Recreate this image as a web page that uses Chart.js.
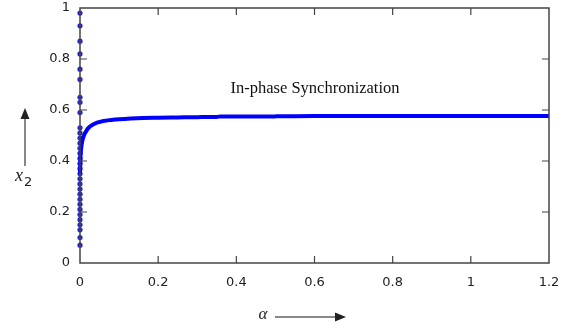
<!DOCTYPE html>
<html><head><meta charset="utf-8">
<script src="https://cdn.jsdelivr.net/npm/chart.js@4.4.1/dist/chart.umd.min.js"></script>
<style>html,body{margin:0;padding:0;background:#fff}</style>
</head><body>
<canvas id="c" width="570" height="330"></canvas>
<script>
// Curve: x2 vs alpha (in-phase synchronization branch)
const curveAlpha = [0, 0.001, 0.003, 0.006, 0.01, 0.015, 0.02, 0.03, 0.04, 0.05, 0.06, 0.08, 0.1, 0.13, 0.16, 0.2, 0.25, 0.3, 0.35, 0.36, 0.4, 0.5, 0.6, 0.7, 0.8, 0.9, 1.0, 1.1, 1.2];
const curveX2    = [0.35, 0.41, 0.45, 0.48, 0.50, 0.515, 0.527, 0.54, 0.548, 0.553, 0.557, 0.561, 0.564, 0.567, 0.569, 0.570, 0.571, 0.572, 0.573, 0.575, 0.575, 0.575, 0.576, 0.576, 0.576, 0.576, 0.576, 0.576, 0.576];
// Scattered points at alpha = 0
const zeroAlphaX2 = [0.98, 0.93, 0.87, 0.82, 0.76, 0.72, 0.65, 0.63, 0.59, 0.53, 0.51, 0.49, 0.47, 0.45, 0.43, 0.41, 0.39, 0.37, 0.35, 0.33, 0.31, 0.29, 0.27, 0.25, 0.23, 0.21, 0.19, 0.17, 0.15, 0.13, 0.10, 0.07];
const xTicks = [0, 0.2, 0.4, 0.6, 0.8, 1, 1.2];
const yTicks = [0, 0.2, 0.4, 0.6, 0.8, 1];
const annotationText = "In-phase Synchronization";
const xTitle = "α";
const yTitle = "x";
const yTitleSub = "2";

const fmt = v => String(Math.round(v * 10) / 10);

const framePlugin = {
  id: 'frame',
  afterDraw(chart) {
    const ctx = chart.ctx, a = chart.chartArea;
    const xs = chart.scales.x, ys = chart.scales.y;
    ctx.save();
    ctx.strokeStyle = '#444';
    ctx.lineWidth = 1.5;
    ctx.strokeRect(a.left, a.top, a.right - a.left, a.bottom - a.top);
    ctx.lineWidth = 1.2;
    ctx.beginPath();
    xTicks.forEach(v => {
      const px = xs.getPixelForValue(v);
      if (v > 0 && v < 1.2) {
        ctx.moveTo(px, a.bottom); ctx.lineTo(px, a.bottom - 7);
        ctx.moveTo(px, a.top); ctx.lineTo(px, a.top + 7);
      }
    });
    yTicks.forEach(v => {
      const py = ys.getPixelForValue(v);
      if (v > 0 && v < 1) {
        ctx.moveTo(a.left, py); ctx.lineTo(a.left + 7, py);
        ctx.moveTo(a.right, py); ctx.lineTo(a.right - 7, py);
      }
    });
    ctx.stroke();
    // annotation
    ctx.fillStyle = '#111';
    ctx.font = '16.5px "Liberation Serif", "Times New Roman", serif';
    ctx.textAlign = 'center';
    ctx.textBaseline = 'middle';
    ctx.fillText(annotationText, 315, 89);
    // x title + arrow
    ctx.font = 'italic 17px "Liberation Serif", serif';
    ctx.fillStyle = '#222';
    ctx.fillText(xTitle, 263, 315);
    ctx.strokeStyle = '#111';
    ctx.lineWidth = 1;
    ctx.beginPath(); ctx.moveTo(275, 317); ctx.lineTo(338, 317); ctx.stroke();
    ctx.beginPath(); ctx.moveTo(346, 317); ctx.lineTo(335, 312.5); ctx.lineTo(335, 321.5); ctx.closePath(); ctx.fill();
    // y title + arrow
    ctx.beginPath(); ctx.moveTo(25, 166); ctx.lineTo(25, 116); ctx.stroke();
    ctx.beginPath(); ctx.moveTo(25, 108); ctx.lineTo(20.5, 119); ctx.lineTo(29.5, 119); ctx.closePath(); ctx.fill();
    ctx.textAlign = 'left';
    ctx.textBaseline = 'alphabetic';
    ctx.font = 'italic 18px "Liberation Serif", serif';
    ctx.fillText(yTitle, 15, 181);
    ctx.font = '13px "DejaVu Sans", sans-serif';
    ctx.fillText(yTitleSub, 24, 186);
    ctx.restore();
  }
};

new Chart(document.getElementById('c'), {
  type: 'scatter',
  data: {
    datasets: [
      {
        data: curveAlpha.map((x, i) => ({x, y: curveX2[i]})),
        showLine: true,
        borderColor: '#0000ff',
        backgroundColor: '#0000ff',
        borderWidth: 4,
        pointRadius: 0,
        tension: 0.3,
        cubicInterpolationMode: 'monotone'
      },
      {
        data: zeroAlphaX2.map(y => ({x: 0, y})),
        showLine: false,
        backgroundColor: '#2424c8',
        borderColor: '#2424c8',
        pointRadius: 2.6,
        borderWidth: 0
      }
    ]
  },
  options: {
    responsive: false,
    animation: false,
    events: [],
    clip: false,
    layout: { padding: { left: 0, right: 21, top: 8, bottom: 0 } },
    plugins: { legend: { display: false }, tooltip: { enabled: false } },
    scales: {
      x: {
        type: 'linear', min: 0, max: 1.2,
        afterFit(s) { s.height = 67; s.paddingLeft = 0; s.paddingRight = 0; },
        afterBuildTicks(s) { s.ticks = xTicks.map(v => ({value: v})); },
        grid: { display: false, drawTicks: false },
        border: { display: false },
        ticks: { callback: fmt, padding: 12, color: '#222', font: { family: '"DejaVu Sans", Verdana, sans-serif', size: 13 }, maxRotation: 0 }
      },
      y: {
        type: 'linear', min: 0, max: 1,
        afterFit(s) { s.width = 80; s.paddingTop = 0; s.paddingBottom = 0; },
        afterBuildTicks(s) { s.ticks = yTicks.map(v => ({value: v})); },
        grid: { display: false, drawTicks: false },
        border: { display: false },
        ticks: { callback: fmt, padding: 10, color: '#222', font: { family: '"DejaVu Sans", Verdana, sans-serif', size: 13 } }
      }
    }
  },
  plugins: [framePlugin]
});
</script>
</body></html>
